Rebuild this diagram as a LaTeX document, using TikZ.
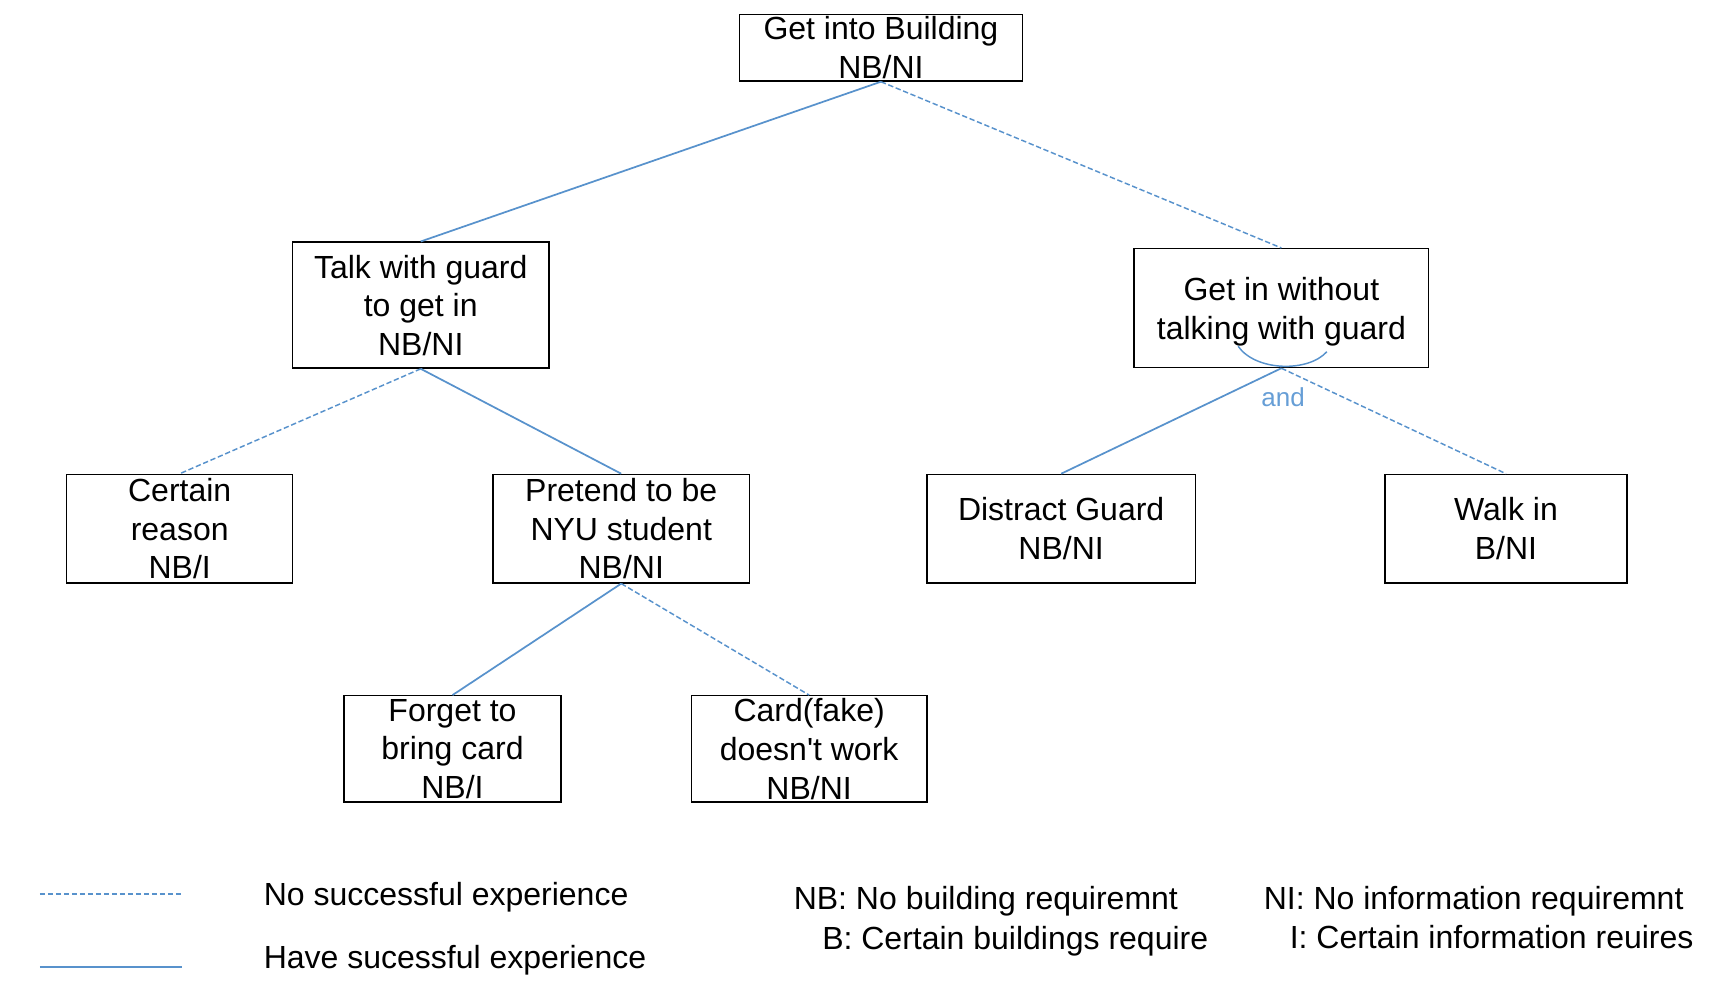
\documentclass[tikz,border=0pt]{standalone}
\usepackage{fontspec}
\setmainfont{Liberation Sans}
\definecolor{linkblue}{RGB}{88,146,204}
\definecolor{andblue}{RGB}{102,158,214}
\tikzset{every picture/.style={line width=0.75pt}}
\tikzset{
	goalbox/.style={draw, line width=1pt, align=center, inner sep=0pt, text depth=0pt, font=\fontsize{24}{29}\selectfont},
	keytext/.style={anchor=base west, inner sep=0pt, font=\fontsize{24}{29}\selectfont},
	succ/.style={draw=linkblue, line width=1.3pt},
	nosucc/.style={draw=linkblue, line width=1.1pt, dash pattern=on 4pt off 2pt},
}

\begin{document}
\begin{tikzpicture}[x=0.8218pt,y=0.8218pt,yscale=-1]
	%set diagram left start at 0, and has height of 910.8
	\path (0,0) rectangle (1568,910.8);

	% Text Node
	\node [goalbox, minimum width=212pt, minimum height=50.1pt] (build) at (804,43.5) {Get into Building\\NB/NI};
	% Text Node
	\node [goalbox, minimum width=192.3pt, minimum height=94.5pt] (talk) at (384,278.5) {Talk with guard\\to get in\\NB/NI};
	% Text Node
	\node [goalbox, minimum width=221.1pt, minimum height=89.2pt] (noTalk) at (1169.5,281.2) {Get in without\\talking with guard};
	% Text Node
	\node [goalbox, minimum width=169.3pt, minimum height=81.4pt] (reason) at (164,482.5) {Certain\\reason\\NB/I};
	% Text Node
	\node [goalbox, minimum width=192.3pt, minimum height=81.4pt] (pretend) at (567,482.5) {Pretend to be\\NYU student\\NB/NI};
	% Text Node
	\node [goalbox, minimum width=201.3pt, minimum height=81.4pt] (distract) at (968.5,482.5) {Distract Guard\\NB/NI};
	% Text Node
	\node [goalbox, minimum width=181.6pt, minimum height=81.4pt] (walk) at (1374.5,482.5) {Walk in\\B/NI};
	% Text Node
	\node [goalbox, minimum width=162.7pt, minimum height=79.7pt] (forget) at (413,683.5) {Forget to\\bring card\\NB/I};
	% Text Node
	\node [goalbox, minimum width=176.7pt, minimum height=79.7pt] (card) at (738.5,683.5) {Card(fake)\\doesn\textquotesingle t work\\NB/NI};

	% Connection
	\draw [succ] (build.south) -- (talk.north);
	% Connection
	\draw [nosucc] (build.south) -- (noTalk.north);
	% Connection
	\draw [nosucc] (talk.south) -- (reason.north);
	% Connection
	\draw [succ] (talk.south) -- (pretend.north);
	% Connection
	\draw [succ] (pretend.south) -- (forget.north);
	% Connection
	\draw [nosucc] (pretend.south) -- (card.north);
	% Connection
	\draw [succ] (noTalk.south) -- (distract.north);
	% Connection
	\draw [nosucc] (noTalk.south) -- (walk.north);

	%Curve Lines
	\draw [succ, line width=1.1pt] (1130,316) .. controls (1146,339) and (1194,340) .. (1211,321);
	% Text Node
	\node [anchor=base, inner sep=0pt, text=andblue, font=\fontsize{19.5}{23}\selectfont] (andLbl) at (1171,371) {and};

	%Legend
	\coordinate (noKeyA) at (36.5,816);
	\coordinate (noKeyB) at (166,816);
	\coordinate (yesKeyA) at (36.5,882.5);
	\coordinate (yesKeyB) at (166,882.5);
	\draw [nosucc, line width=1.5pt] (noKeyA) -- (noKeyB);
	\draw [succ, line width=1.7pt] (yesKeyA) -- (yesKeyB);
	% Text Node
	\node [keytext] (noKeyTxt) at (240.3,826) {No successful experience};
	% Text Node
	\node [keytext] (yesKeyTxt) at (240.3,883.7) {Have sucessful experience};
	% Text Node
	\node [keytext] (nbTxt) at (724,830.5) {NB: No building requiremnt};
	% Text Node
	\node [keytext] (bTxt) at (750,867) {B: Certain buildings require};
	% Text Node
	\node [keytext] (niTxt) at (1153,830) {NI: No information requiremnt};
	% Text Node
	\node [keytext] (iTxt) at (1176.7,865.8) {I: Certain information reuires};

\end{tikzpicture}
\end{document}
